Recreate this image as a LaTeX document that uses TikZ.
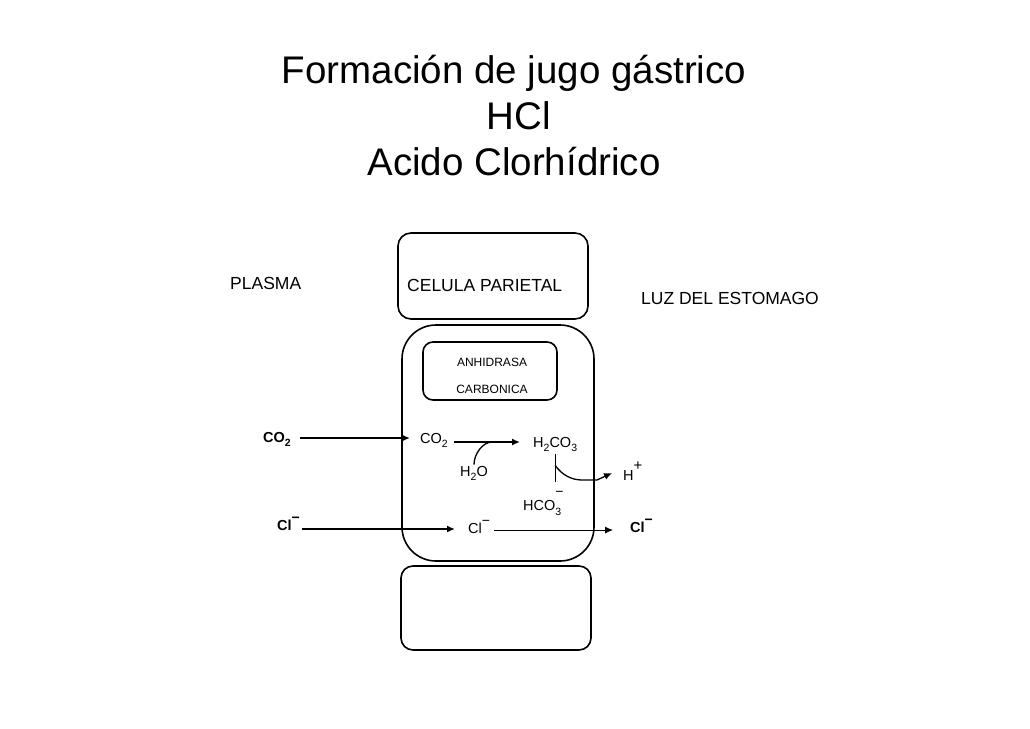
\documentclass[tikz,border=0pt]{standalone}
\usepackage{fontspec}
\setmainfont{Liberation Sans}
\usetikzlibrary{arrows.meta,calc}
\newcommand\sbs[1]{\raisebox{-4pt}{\fontsize{10.5}{10.5}\selectfont #1}}
\newcommand\mn{\raisebox{8pt}{\fontsize{14}{14}\selectfont −}}
\begin{document}
\begin{tikzpicture}[x=1pt,y=-1pt,
  box/.style={draw, line width=1.6pt, inner sep=0pt, outer sep=0pt},
  ttl/.style={inner sep=0pt, anchor=base, font=\fontsize{38.5}{46}\selectfont},
  lbl/.style={inner sep=0pt, anchor=base west, font=\fontsize{17.5}{20}\selectfont},
  small/.style={inner sep=0pt, anchor=base, font=\fontsize{12}{14}\selectfont},
  chem/.style={inner sep=0pt, anchor=base west, font=\fontsize{14.5}{16}\selectfont},
  chemb/.style={chem, font=\fontsize{14.5}{16}\selectfont\bfseries},
  arr/.style={-{Latex[length=8pt,width=7pt]}, line width=1.6pt},
  thinarr/.style={-{Latex[length=8pt,width=7pt]}, line width=0.9pt},
  link/.style={line width=1.3pt}]
\useasboundingbox (0,0) rectangle (1030,728);
% title
\node[ttl] (t1) at (514,83) {Formación de jugo gástrico};
\node[ttl] (t2) at (519,129) {HCl};
\node[ttl] (t3) at (514,175) {Acido Clorhídrico};
% boxes
\node[box, rounded corners=13pt, minimum width=190pt, minimum height=86pt] (celtop) at (493,276) {};
\node[box, rounded corners=34pt, minimum width=192pt, minimum height=236pt] (cell) at (498,443) {};
\node[box, rounded corners=10pt, minimum width=134pt, minimum height=58pt] (enz) at (490,371) {};
\node[box, rounded corners=12pt, minimum width=190pt, minimum height=84pt] (celbot) at (496,608) {};
% labels
\node[lbl] (plasma) at (230,289) {PLASMA};
\node[lbl] (celula) at (407,291) {CELULA PARIETAL};
\node[lbl] (luz) at (641,304) {LUZ DEL ESTOMAGO};
\node[small] (anh) at (492,366) {ANHIDRASA};
\node[small] (carb) at (492,393) {CARBONICA};
% chemistry
\node[chemb] (co2L) at (263,442) {CO\sbs{2}};
\node[chem] (co2i) at (420,443) {CO\sbs{2}};
\node[chem] (h2co3) at (533,447) {H\sbs{2}CO\sbs{3}};
\node[chem] (h2o) at (460,476) {H\sbs{2}O};
\node[chem] (hplus) at (623,480) {H\raisebox{10pt}{\fontsize{15}{15}\selectfont +}};
\node[chem] (hco3) at (523,510) {HCO\rlap{\raisebox{14pt}{\fontsize{14}{14}\selectfont −}}\raisebox{-5pt}{\fontsize{10.5}{10.5}\selectfont 3}};
\node[chemb] (clL) at (277,530) {Cl\mn};
\node[chem] (clI) at (468,533) {Cl\mn};
\node[chemb] (clR) at (630,532) {Cl\mn};
% arrows
\draw[arr] ($(co2L.base east)+(9,-4)$) -- ($(co2L.base east -| co2i.west)+(-10,-4)$);
\draw[arr] ($(co2i.base east)+(6,-1)$) -- ($(co2i.base east -| h2co3.west)+(-13,-1)$);
\coordinate (j1) at (492,442);
\draw[link] ($(h2o.north)+(0,-1)$) .. controls +(0,-11) and +(-9,0) .. (j1);
\draw[link] ($(h2co3.south)+(0,3)$) -- ($(h2co3.south)+(0,31)$);
\coordinate (c1) at (582,480);
\coordinate (c2) at (597,480);
\draw[arr, line width=1.3pt] ($(h2co3.south)+(0,14)$) .. controls +(7,10) and +(-10,0) .. (c1) -- (c2) -- ($(hplus.base west)+(-11,-7)$);
\draw[arr] ($(clL.base east)+(2,-1)$) -- ($(clL.base east -| clI.west)+(-13,-1)$);
\draw[thinarr] ($(clI.base east)+(4,-3)$) -- ($(clI.base east -| clR.west)+(-17,-3)$);
\end{tikzpicture}
\end{document}
